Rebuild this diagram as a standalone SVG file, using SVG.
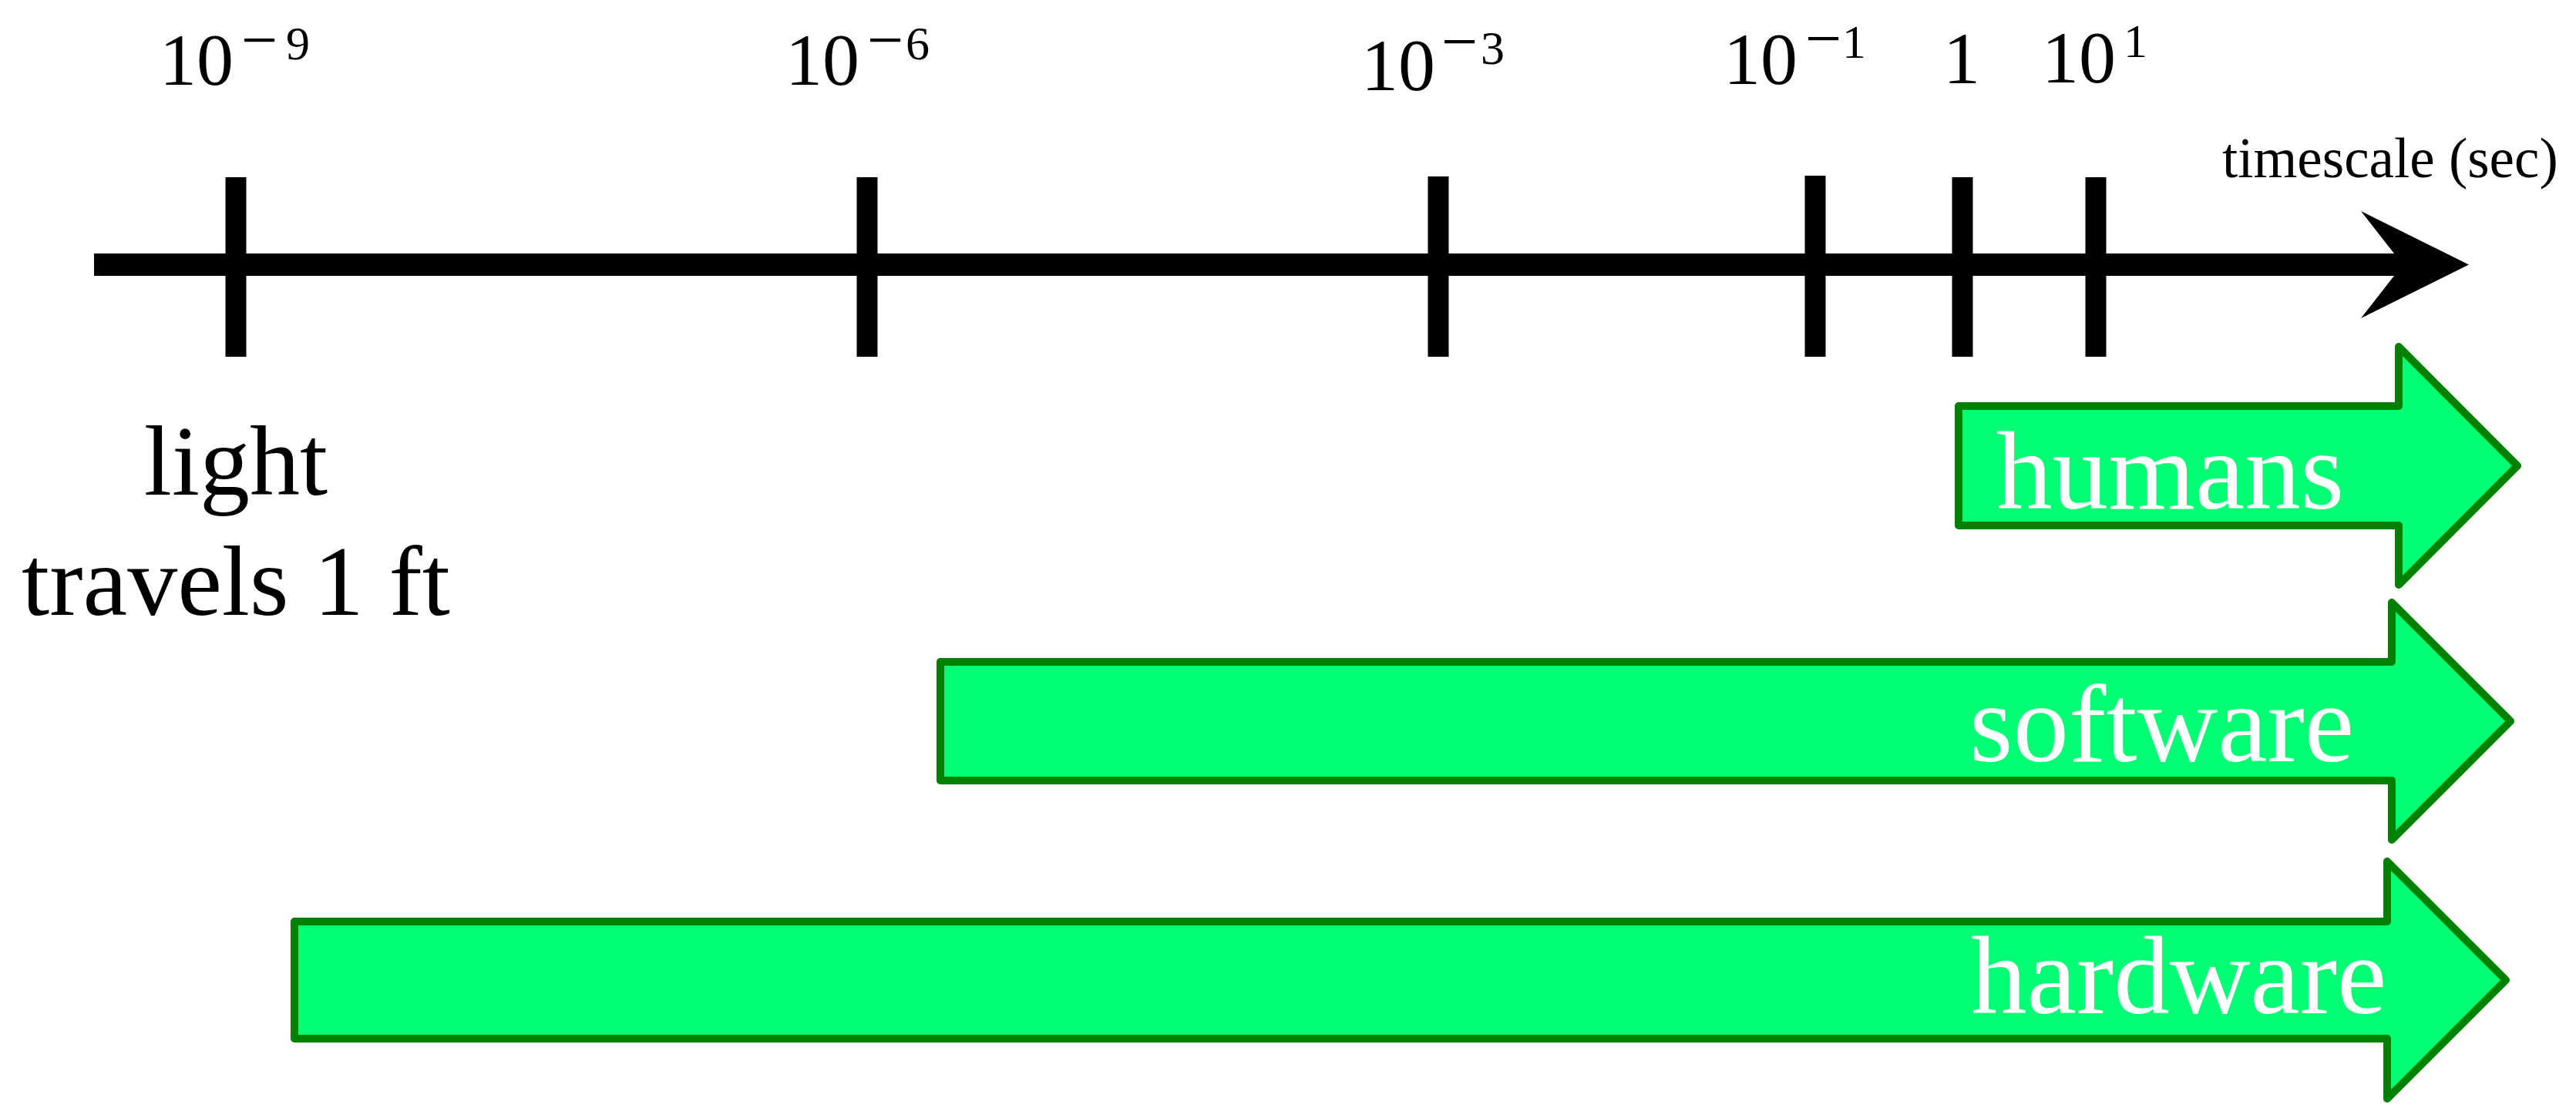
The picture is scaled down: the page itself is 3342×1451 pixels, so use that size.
<svg xmlns="http://www.w3.org/2000/svg" width="3342" height="1451" viewBox="0 0 3342 1451">
<style>
.lbl{font-family:"Liberation Serif","Times New Roman",serif;fill:#000}
.big{font-size:96px}
.sup{font-size:62px}
.min{font-size:84px}
.band{fill:#00FF73;stroke:#008000;stroke-width:10;stroke-linejoin:round}
.bandtxt{font-family:"Liberation Serif","Times New Roman",serif;font-size:145px;fill:#fff}
.tick{fill:#000}
</style>
<rect width="3342" height="1451" fill="#fff"/>
<g id="axis">
<polygon points="122,329 3106,329 3063,274 3203,343.5 3063,413 3106,358 122,358" fill="#000"/>
<rect class="tick" x="292.5" y="230" width="27" height="233"/>
<rect class="tick" x="1111.5" y="230" width="27" height="233"/>
<rect class="tick" x="1852.5" y="229" width="27" height="234"/>
<rect class="tick" x="2341.5" y="228" width="27" height="235"/>
<rect class="tick" x="2532.5" y="230" width="27" height="233"/>
<rect class="tick" x="2705.5" y="230" width="27" height="233"/>
<text class="lbl" x="2883" y="230" font-size="73">timescale (sec)</text>
</g>
<g id="labels">
<text class="lbl big" x="207" y="110">10</text>
<text class="lbl min" x="313" y="80">−</text>
<text class="lbl sup" x="371" y="77">9</text>
<text class="lbl big" x="1019" y="110">10</text>
<text class="lbl min" x="1125" y="80">−</text>
<text class="lbl sup" x="1175" y="77">6</text>
<text class="lbl big" x="1766" y="117">10</text>
<text class="lbl min" x="1870" y="82">−</text>
<text class="lbl sup" x="1921" y="83">3</text>
<text class="lbl big" x="2236" y="109">10</text>
<text class="lbl min" x="2342" y="78">−</text>
<text class="lbl sup" x="2390" y="75">1</text>
<text class="lbl big" x="2521" y="108">1</text>
<text class="lbl big" x="2649" y="107">10</text>
<text class="lbl sup" x="2755" y="74">1</text>
</g>
<g id="light">
<text class="lbl" font-size="130" text-anchor="middle" x="306" y="642">light</text>
<text class="lbl" font-size="130" text-anchor="middle" x="306" y="798">travels 1 ft</text>
</g>
<g id="humans">
<path class="band" d="M2541,527 H3112 V450 L3266,604.5 L3112,759 V682 H2541 Z"/>
<text class="bandtxt" x="2590" y="660">humans</text>
</g>
<g id="software">
<path class="band" d="M1220,859 H3103 V782 L3257,936 L3103,1090 V1013 H1220 Z"/>
<text class="bandtxt" x="2555" y="988">software</text>
</g>
<g id="hardware">
<path class="band" d="M382,1196 H3097 V1118 L3251,1272 L3097,1426 V1348 H382 Z"/>
<text class="bandtxt" x="2557" y="1315">hardware</text>
</g>
</svg>
